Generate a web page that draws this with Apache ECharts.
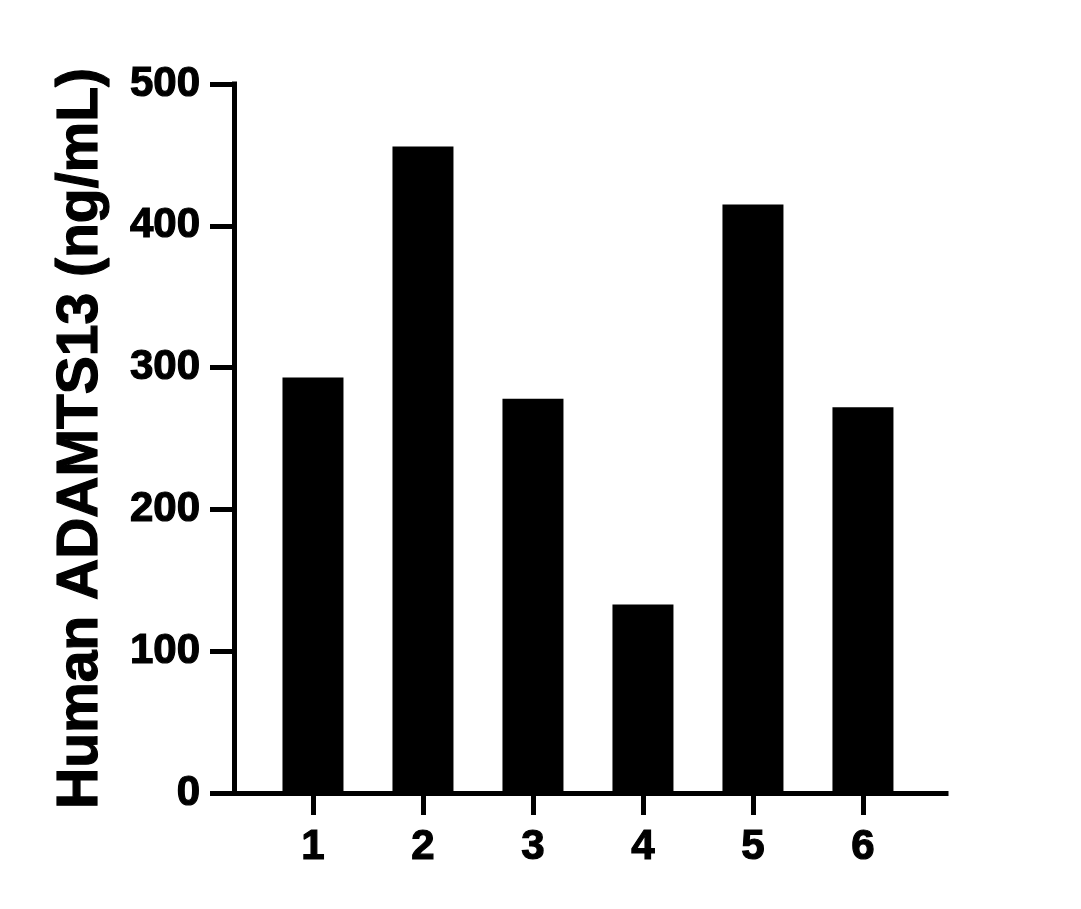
<!DOCTYPE html>
<html>
<head>
<meta charset="utf-8">
<script src="https://cdn.jsdelivr.net/npm/echarts@6/dist/echarts.min.js"></script>
<style>
  html, body { margin: 0; padding: 0; background: #fff; }
  #chart { width: 1081px; height: 909px; }
</style>
</head>
<body>
<div id="chart"></div>
<script>
const categories = ['1', '2', '3', '4', '5', '6'];
const values = [293, 456, 278, 133, 415, 272];
const yTicks = [0, 100, 200, 300, 400, 500];
const yTitle = 'Human ADAMTS13 (ng/mL)';

const FONT = '"Liberation Sans", Arial, Helvetica, sans-serif';
const positions = categories.map((c, i) => i + 1);
const barData = values.map((v, i) => [positions[i], v]);

const chart = echarts.init(document.getElementById('chart'), null, { renderer: 'canvas' });
chart.setOption({
  animation: false,
  backgroundColor: '#ffffff',
  grid: { left: 234, right: 135, top: 84, bottom: 116, containLabel: false },
  xAxis: {
    type: 'value',
    min: 0.282,
    max: 6.755,
    splitLine: { show: false },
    axisLine: { show: true, onZero: false, lineStyle: { color: '#000', width: 5, cap: 'square' } },
    axisTick: { show: true, customValues: positions, length: 22, lineStyle: { color: '#000', width: 5 } },
    axisLabel: {
      customValues: positions,
      formatter: v => categories[Math.round(v) - 1] || '',
      color: '#000', fontFamily: FONT, fontWeight: 'bold', fontSize: 42, margin: 33,
      textBorderColor: '#000', textBorderWidth: 1.2
    }
  },
  yAxis: {
    type: 'value',
    min: 0,
    max: 500,
    interval: 100,
    splitLine: { show: false },
    axisLine: { show: true, lineStyle: { color: '#000', width: 5, cap: 'square' } },
    axisTick: { show: true, length: 24, lineStyle: { color: '#000', width: 5 } },
    axisLabel: {
      formatter: v => (yTicks.indexOf(v) >= 0 ? String(v) : ''),
      color: '#000', fontFamily: FONT, fontWeight: 'bold', fontSize: 42, margin: 34,
      textBorderColor: '#000', textBorderWidth: 1.2
    },
    name: yTitle,
    nameLocation: 'middle',
    nameGap: 124,
    nameTextStyle: {
      color: '#000', fontFamily: FONT, fontWeight: 'bold', fontSize: 57,
      textBorderColor: '#000', textBorderWidth: 1.2
    }
  },
  series: [{
    type: 'bar',
    data: barData,
    barWidth: 61,
    itemStyle: { color: '#000' }
  }]
});
</script>
</body>
</html>
